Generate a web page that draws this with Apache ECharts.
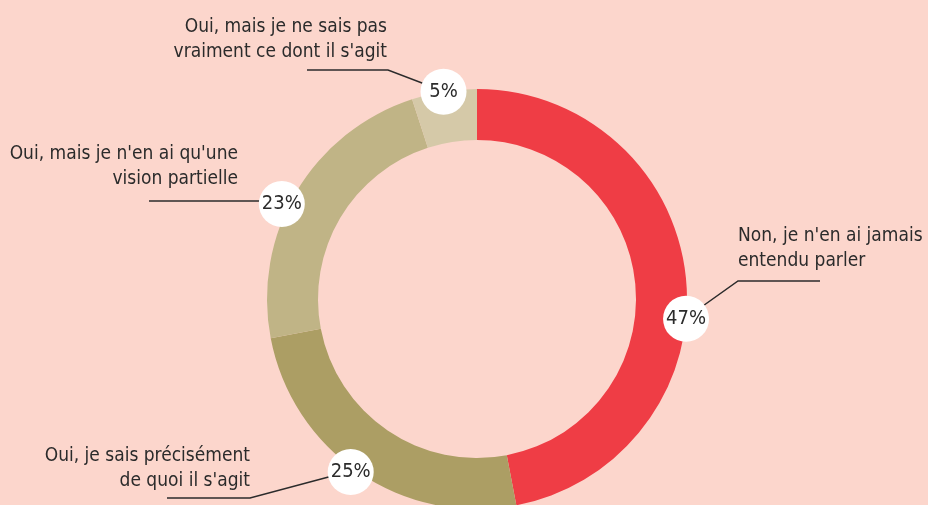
<!DOCTYPE html>
<html lang="fr">
<head>
<meta charset="UTF-8">
<title>Donut</title>
<style>
  html, body { margin: 0; padding: 0; background: #fcd6cc; }
  #chart { width: 928px; height: 505px; }
</style>
</head>
<body>
<div id="chart"></div>
<script src="https://cdn.jsdelivr.net/npm/echarts@6/dist/echarts.min.js"></script>
<script>
// data
var categories = [
    "Non, je n'en ai jamais\nentendu parler",
    "Oui, je sais précisément\nde quoi il s'agit",
    "Oui, mais je n'en ai qu'une\nvision partielle",
    "Oui, mais je ne sais pas\nvraiment ce dont il s'agit"
];
var values = [47, 25, 23, 5];
var colors = ['#ef3d45', '#ac9e64', '#c0b486', '#d5c9a8'];

// label placement (hand placed in the original)
var textBoxes = [
    { x: 738, y: 224, align: 'left' },
    { x: 250, y: 444, align: 'right' },
    { x: 238, y: 142, align: 'right' },
    { x: 387, y: 15, align: 'right' }
];
var leaders = [
    [[686, 318], [738, 281], [820, 281]],
    [[351, 471], [250, 498], [167, 498]],
    [[282, 201], [260, 201], [149, 201]],
    [[443, 91], [388, 70], [307, 70]]
];
var badgeNudge = [[-4, 40], [-6, -4], [-11, 14], [0, 4]];

var font = 'DejaVu Sans Condensed';
var data = categories.map(function (name, i) {
    return { name: name, value: values[i], itemStyle: { color: colors[i] } };
});

var chart = echarts.init(document.getElementById('chart'));
chart.setOption({
    backgroundColor: '#fcd6cc',
    animation: false,
    series: [
        {
            type: 'pie',
            center: [477, 299],
            radius: [159, 210],
            startAngle: 90,
            clockwise: true,
            avoidLabelOverlap: false,
            emphasis: { disabled: true },
            silent: true,
            data: data,
            label: {
                show: true,
                position: 'outside',
                formatter: '{b}',
                color: '#2b2b2b',
                fontFamily: font,
                fontSize: 19,
                lineHeight: 25
            },
            labelLine: {
                show: true,
                lineStyle: { color: '#2b2b2b', width: 1.5 }
            },
            labelLayout: function (p) {
                var b = textBoxes[p.dataIndex];
                return {
                    x: b.x,
                    y: b.y,
                    align: b.align,
                    verticalAlign: 'top',
                    labelLinePoints: leaders[p.dataIndex]
                };
            }
        },
        {
            type: 'pie',
            z: 5,
            center: [477, 299],
            radius: [200, 222],
            startAngle: 90,
            clockwise: true,
            avoidLabelOverlap: false,
            emphasis: { disabled: true },
            silent: true,
            itemStyle: { color: 'rgba(0,0,0,0)' },
            data: values.map(function (v, i) { return { name: categories[i], value: v }; }),
            label: {
                show: true,
                position: 'inside',
                formatter: '{c}%',
                color: '#2b2b2b',
                fontFamily: font,
                fontSize: 20,
                backgroundColor: '#fff',
                width: 46,
                height: 46,
                lineHeight: 46,
                borderRadius: 23,
                align: 'center'
            },
            labelLine: { show: false },
            labelLayout: function (p) {
                var n = badgeNudge[p.dataIndex];
                return { dx: n[0], dy: n[1] };
            }
        }
    ]
});
</script>
</body>
</html>
